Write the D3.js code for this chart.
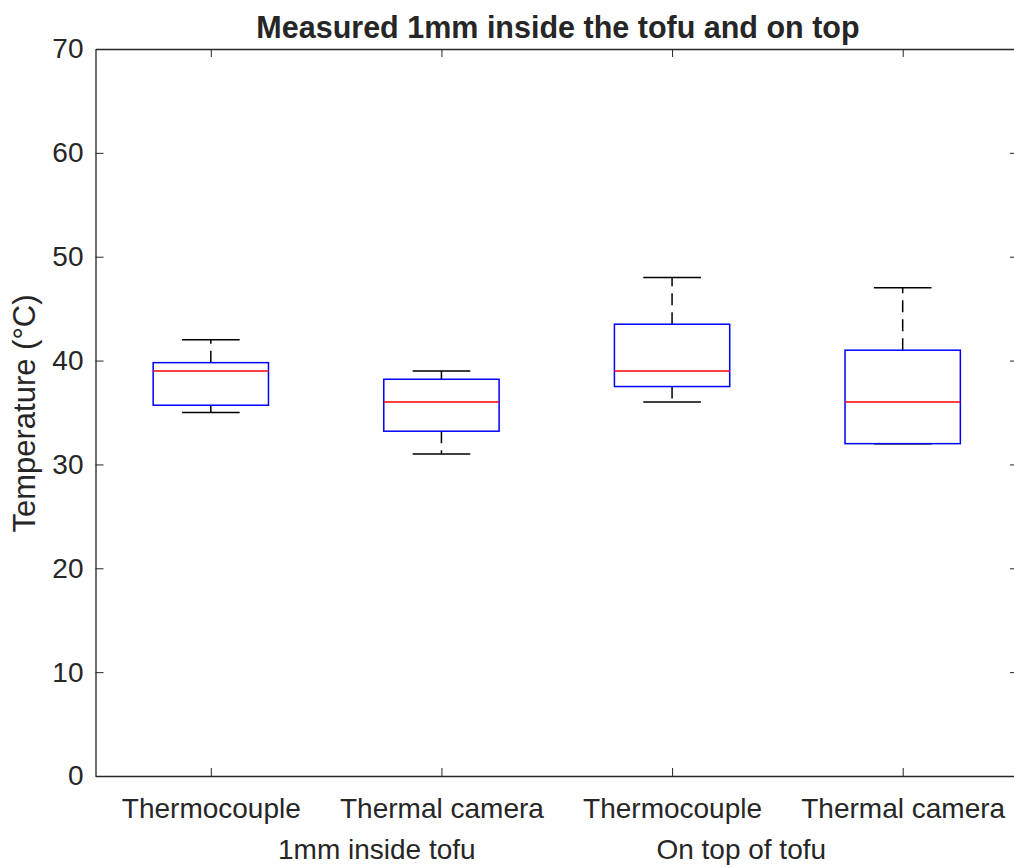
<!DOCTYPE html>
<html>
<head>
<meta charset="utf-8">
<script src="https://cdn.jsdelivr.net/npm/d3@7"></script>
<style>
  body { margin: 0; background: #fff; }
  text { font-family: "Liberation Sans", Arial, Helvetica, sans-serif; fill: #262626; }
</style>
</head>
<body>
<div id="chart"></div>
<script>
// données
const categories = ["Thermocouple", "Thermal camera", "Thermocouple", "Thermal camera"];
const groups = ["1mm inside tofu", "On top of tofu"];
const whiskerLow = [35, 31, 36, 32];
const q1 = [35.7, 33.2, 37.5, 32];
const medians = [39, 36, 39, 36];
const q3 = [39.8, 38.2, 43.5, 41];
const whiskerHigh = [42, 39, 48, 47];
const yTicks = [0, 10, 20, 30, 40, 50, 60, 70];

const W = 1014, H = 867;
const M = {top: 49, left: 95.5, right: 1018, bottom: 776};
const TICK = 8;

const svg = d3.select("#chart").append("svg")
    .attr("width", W).attr("height", H);

const x = d3.scaleLinear().domain([0.5, 4.5]).range([M.left, M.right]);
const y = d3.scaleLinear().domain([0, 70]).range([M.bottom, M.top]);

const boxes = categories.map((c, i) => ({
    pos: i + 1, lo: whiskerLow[i], q1: q1[i], med: medians[i], q3: q3[i], hi: whiskerHigh[i]
}));

// axes gauche / droite / bas / haut, ticks vers l'intérieur
const axisLeft = d3.axisLeft(y).tickValues(yTicks).tickSizeInner(-TICK).tickSizeOuter(0).tickPadding(12);
svg.append("g").attr("transform", `translate(${M.left},0)`).call(axisLeft)
    .call(g => g.selectAll("text").style("font-size", "28px").attr("fill", "#333"));
const axisRight = d3.axisRight(y).tickValues(yTicks).tickSizeInner(-TICK).tickSizeOuter(0).tickFormat("");
svg.append("g").attr("transform", `translate(${M.right},0)`).call(axisRight);

const axisBottom = d3.axisBottom(x).tickValues([1, 2, 3, 4]).tickSizeInner(-TICK).tickSizeOuter(0)
    .tickFormat((d, i) => categories[i]).tickPadding(22);
svg.append("g").attr("transform", `translate(0,${M.bottom})`).call(axisBottom)
    .call(g => g.selectAll("text").style("font-size", "28px").attr("fill", "#333"));
const axisTop = d3.axisTop(x).tickValues([1, 2, 3, 4]).tickSizeInner(-TICK).tickSizeOuter(0).tickFormat("");
svg.append("g").attr("transform", `translate(0,${M.top})`).call(axisTop);

svg.selectAll(".domain").attr("stroke", "#262626").attr("stroke-width", 1.3);
svg.selectAll(".tick line").attr("stroke", "#262626").attr("stroke-width", 1);

// libellés de groupe (deuxième ligne), placés comme sur l'original
const groupPos = [1.72, 3.30];
svg.selectAll(".grp").data(groups).enter().append("text")
    .attr("class", "grp")
    .attr("x", (d, i) => x(groupPos[i]))
    .attr("y", 859)
    .attr("text-anchor", "middle")
    .style("font-size", "28px").attr("fill", "#333")
    .text(d => d);

// boîtes
const halfBox = 0.25, halfCap = 0.125;
const g = svg.append("g");
const b = g.selectAll(".box").data(boxes).enter().append("g");

// moustaches en tirets
b.append("line")
    .attr("x1", d => x(d.pos)).attr("x2", d => x(d.pos))
    .attr("y1", d => y(d.q3)).attr("y2", d => y(d.hi))
    .attr("stroke", "#000").attr("stroke-width", 1.5).attr("stroke-dasharray", "12,7");
b.append("line")
    .attr("x1", d => x(d.pos)).attr("x2", d => x(d.pos))
    .attr("y1", d => y(d.q1)).attr("y2", d => y(d.lo))
    .attr("stroke", "#000").attr("stroke-width", 1.5).attr("stroke-dasharray", "12,7");
// extrémités
["hi", "lo"].forEach(k => {
    b.append("line")
        .attr("x1", d => x(d.pos - halfCap)).attr("x2", d => x(d.pos + halfCap))
        .attr("y1", d => y(d[k])).attr("y2", d => y(d[k]))
        .attr("stroke", "#000").attr("stroke-width", 1.5);
});
b.append("rect")
    .attr("x", d => x(d.pos - halfBox))
    .attr("width", d => x(d.pos + halfBox) - x(d.pos - halfBox))
    .attr("y", d => y(d.q3))
    .attr("height", d => y(d.q1) - y(d.q3))
    .attr("fill", "none").attr("stroke", "#0000ff").attr("stroke-width", 1.5);
b.append("line")
    .attr("x1", d => x(d.pos - halfBox)).attr("x2", d => x(d.pos + halfBox))
    .attr("y1", d => y(d.med)).attr("y2", d => y(d.med))
    .attr("stroke", "#ff0000").attr("stroke-width", 1.5);

// titre et axe y
svg.append("text")
    .attr("x", 558).attr("y", 38)
    .attr("text-anchor", "middle")
    .style("font-size", "30.5px").style("font-weight", "bold").attr("fill", "#000")
    .text("Measured 1mm inside the tofu and on top");

svg.append("text")
    .attr("transform", `translate(35,${(M.top + M.bottom) / 2 + 1}) rotate(-90)`)
    .attr("text-anchor", "middle")
    .style("font-size", "31px").attr("fill", "#333")
    .text("Temperature (°C)");
</script>
</body>
</html>
